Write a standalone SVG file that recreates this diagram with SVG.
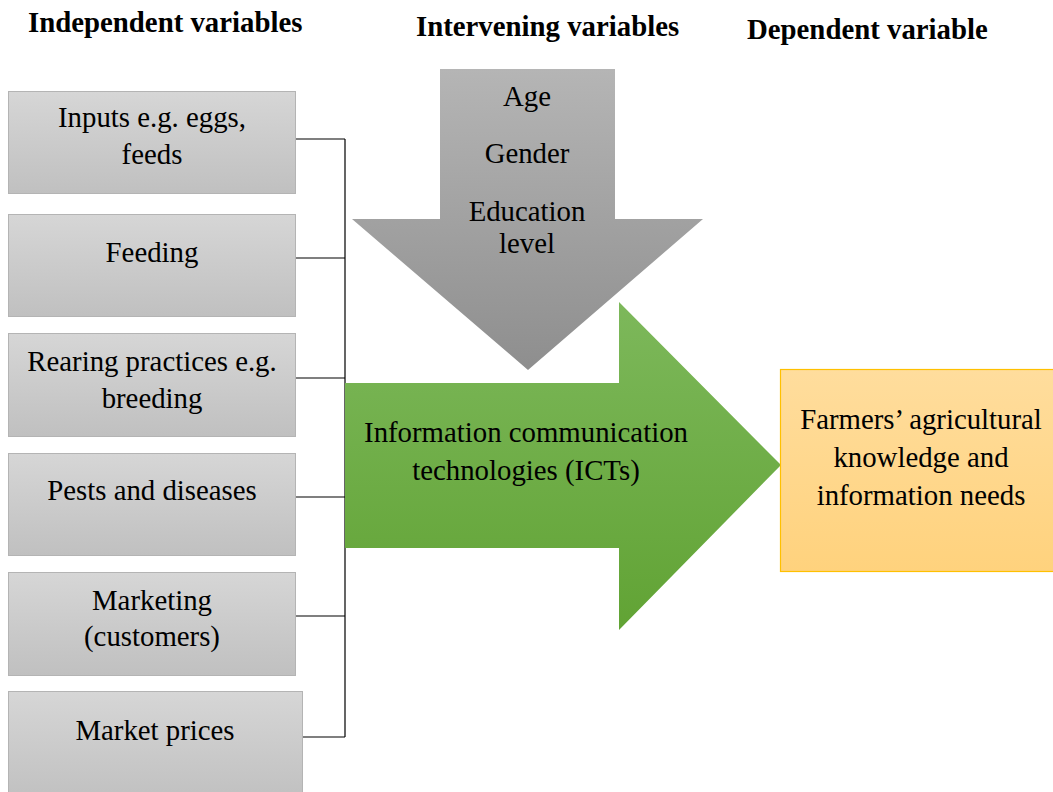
<svg xmlns="http://www.w3.org/2000/svg" width="1053" height="792" viewBox="0 0 1053 792">
<defs>
<linearGradient id="gBox" x1="0" y1="0" x2="0" y2="1"><stop offset="0" stop-color="#D6D6D6"/><stop offset="1" stop-color="#C0C0C0"/></linearGradient>
<linearGradient id="gGrey" x1="0" y1="0" x2="0" y2="1"><stop offset="0" stop-color="#B5B5B5"/><stop offset="1" stop-color="#8E8E8E"/></linearGradient>
<linearGradient id="gGreen" x1="0" y1="0" x2="0" y2="1"><stop offset="0" stop-color="#7DB85B"/><stop offset="1" stop-color="#61A334"/></linearGradient>
<linearGradient id="gOrange" x1="0" y1="0" x2="0" y2="1"><stop offset="0" stop-color="#FFDD9D"/><stop offset="1" stop-color="#FFD27D"/></linearGradient>
<style>
.box{fill:url(#gBox);stroke:#B4B4B4;stroke-width:1}
.ln{stroke:#000;stroke-width:1.2;fill:none}
</style>
</defs>
<rect width="1053" height="792" fill="#fff"/>
<g id="headers" font-family="'Liberation Serif', serif" font-size="28.8" font-weight="bold" fill="#000">
<text x="28" y="32">Independent variables</text>
<text x="416" y="36">Intervening variables</text>
<text x="747" y="39">Dependent variable</text>
</g>
<g id="connectors">
<path class="ln" d="M295 139H345M295 258H345M295 378H345M295 497H345M295 616H345M302 737H345M345 139V737"/>
</g>
<g font-family="'Liberation Serif', serif" font-size="28.8" fill="#000" text-anchor="middle">
<g id="intervening">
<polygon points="440,69 615,69 615,219 703,219 528,370 352,219 440,219" fill="url(#gGrey)"/>
<text x="527" y="106">Age</text>
<text x="527" y="163">Gender</text>
<text x="527" y="221">Education</text>
<text x="527" y="253">level</text>
</g>
<g id="ict">
<polygon points="345,383 619,383 619,302 781,465 619,630 619,548 345,548" fill="url(#gGreen)"/>
<text x="526" y="442">Information communication</text>
<text x="526" y="480">technologies (ICTs)</text>
</g>
<g id="dependent">
<rect x="780.5" y="369.5" width="280" height="202" fill="url(#gOrange)" stroke="#FFC000" stroke-width="1.2"/>
<text x="921" y="429">Farmers’ agricultural</text>
<text x="921" y="467">knowledge and</text>
<text x="921" y="505">information needs</text>
</g>
<g id="n1"><rect class="box" x="8.5" y="91.5" width="287" height="102"/><text x="152" y="127">Inputs e.g. eggs,</text><text x="152" y="164">feeds</text></g>
<g id="n2"><rect class="box" x="8.5" y="214.5" width="287" height="102"/><text x="152" y="262">Feeding</text></g>
<g id="n3"><rect class="box" x="8.5" y="333.5" width="287" height="103"/><text x="152" y="371">Rearing practices e.g.</text><text x="152" y="408">breeding</text></g>
<g id="n4"><rect class="box" x="8.5" y="453.5" width="287" height="102"/><text x="152" y="500">Pests and diseases</text></g>
<g id="n5"><rect class="box" x="8.5" y="572.5" width="287" height="103"/><text x="152" y="610">Marketing</text><text x="152" y="646">(customers)</text></g>
<g id="n6"><rect class="box" x="8.5" y="691.5" width="294" height="110"/><text x="155" y="740">Market prices</text></g>
</g>
</svg>
